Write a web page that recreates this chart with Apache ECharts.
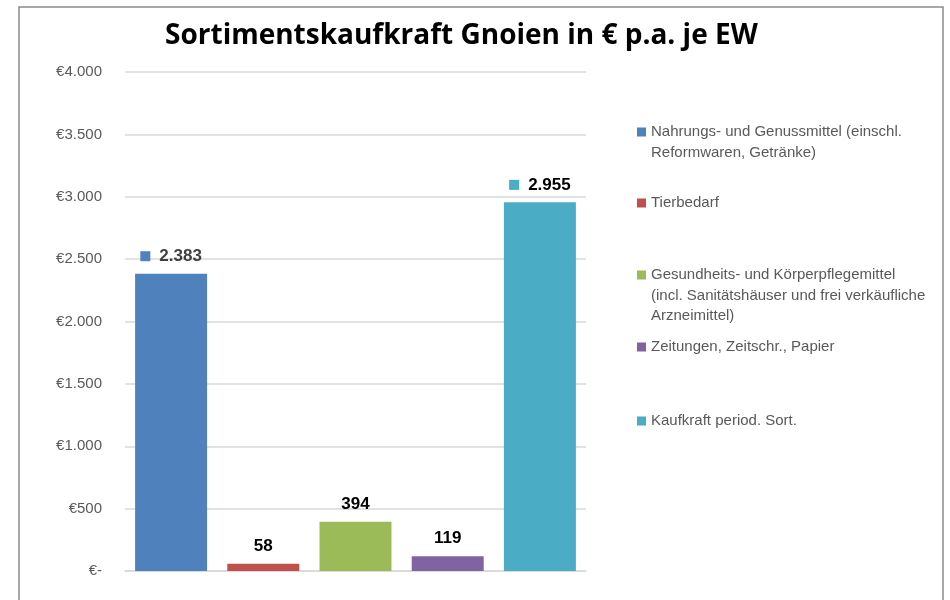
<!DOCTYPE html>
<html>
<head>
<meta charset="utf-8">
<script src="https://cdn.jsdelivr.net/npm/echarts@6/dist/echarts.min.js"></script>
<style>
  html, body { margin: 0; padding: 0; background: #fff; }
  #chart { width: 950px; height: 600px; }
</style>
</head>
<body>
<div id="chart"></div>
<script>
// Sortimente (Serien) und Werte in € p.a. je EW
const categories = [
  'Nahrungs- und Genussmittel (einschl. Reformwaren, Getränke)',
  'Tierbedarf',
  'Gesundheits- und Körperpflegemittel (incl. Sanitätshäuser und frei verkäufliche Arzneimittel)',
  'Zeitungen, Zeitschr., Papier',
  'Kaufkraft period. Sort.'
];
const legendText = [
  'Nahrungs- und Genussmittel (einschl.\nReformwaren, Getränke)',
  'Tierbedarf',
  'Gesundheits- und Körperpflegemittel\n(incl. Sanitätshäuser und frei verkäufliche\nArzneimittel)',
  'Zeitungen, Zeitschr., Papier',
  'Kaufkraft period. Sort.'
];
const values = [2383, 58, 394, 119, 2955];
const colors = ['#4f81bd', '#c0504d', '#9bbb59', '#8064a2', '#4bacc6'];
const showKey = [true, false, false, false, true];
const yTicks = { min: 0, max: 4000, interval: 500 };

// Legendenpositionen (Mitte der ersten Zeile)
const legendFirstLine = [132, 203, 275, 347, 421];
const LH = 20.5;

const fmt = v => String(v).replace(/\B(?=(\d{3})+(?!\d))/g, '.');

function keyIcon(lines) {
  const h = lines * LH;
  const y = (LH - 9) / 2;
  return 'path://M0 0h0.01M0 ' + y + 'h9v9H0z M0 ' + h + 'h0.01';
}

const chart = echarts.init(document.getElementById('chart'));

const series = categories.map((name, i) => ({
  name: name,
  type: 'bar',
  stack: 'all',
  barWidth: 72,
  itemStyle: { color: colors[i] },
  label: {
    show: true,
    position: 'top',
    distance: 9,
    formatter: p => showKey[i] ? '{k|}{v|' + fmt(p.value) + '}' : '{v|' + fmt(p.value) + '}',
    rich: {
      k: { width: 10, height: 10, backgroundColor: colors[i] },
      v: {
        fontFamily: 'Liberation Sans',
        fontWeight: 'bold',
        fontSize: 17,
        color: i === 0 ? '#404040' : '#000',
        padding: showKey[i] ? [0, 0, 0, 9] : 0
      }
    }
  },
  data: categories.map((c, j) => (j === i ? values[i] : '-'))
}));

const legends = categories.map((name, i) => {
  const lines = legendText[i].split('\n').length;
  return {
    data: [name],
    orient: 'vertical',
    left: 637,
    top: legendFirstLine[i] - LH / 2,
    padding: 0,
    itemWidth: 9,
    itemHeight: lines * LH,
    icon: keyIcon(lines),
    formatter: () => legendText[i],
    textStyle: {
      fontFamily: 'Liberation Sans',
      fontSize: 15,
      lineHeight: LH,
      color: '#595959'
    }
  };
});

chart.setOption({
  backgroundColor: '#fff',
  animation: false,
  title: {
    text: 'Sortimentskaufkraft Gnoien in € p.a. je EW',
    left: 160,
    top: 17,
    textStyle: {
      fontFamily: 'Open Sans',
      fontWeight: 'bold',
      fontSize: 28,
      color: '#000'
    }
  },
  legend: legends,
  grid: { left: 125, right: 364, top: 72, bottom: 29 },
  xAxis: {
    type: 'category',
    data: categories,
    axisLabel: { show: false },
    axisTick: { show: false },
    axisLine: { lineStyle: { color: '#d9d9d9', width: 1.5 } }
  },
  yAxis: {
    type: 'value',
    min: yTicks.min,
    max: yTicks.max,
    interval: yTicks.interval,
    axisLine: { show: false },
    axisTick: { show: false },
    splitLine: { lineStyle: { color: '#d9d9d9', width: 1.5 } },
    axisLabel: {
      margin: 23,
      fontFamily: 'Liberation Sans',
      fontSize: 15,
      color: '#595959',
      formatter: v => (v === 0 ? '€-' : '€' + fmt(v))
    }
  },
  graphic: [{
    type: 'rect',
    silent: true,
    shape: { x: 19, y: 7, width: 924, height: 600 },
    style: { fill: 'none', stroke: '#8a8a8a', lineWidth: 1.5 }
  }],
  series: series
});
</script>
</body>
</html>
